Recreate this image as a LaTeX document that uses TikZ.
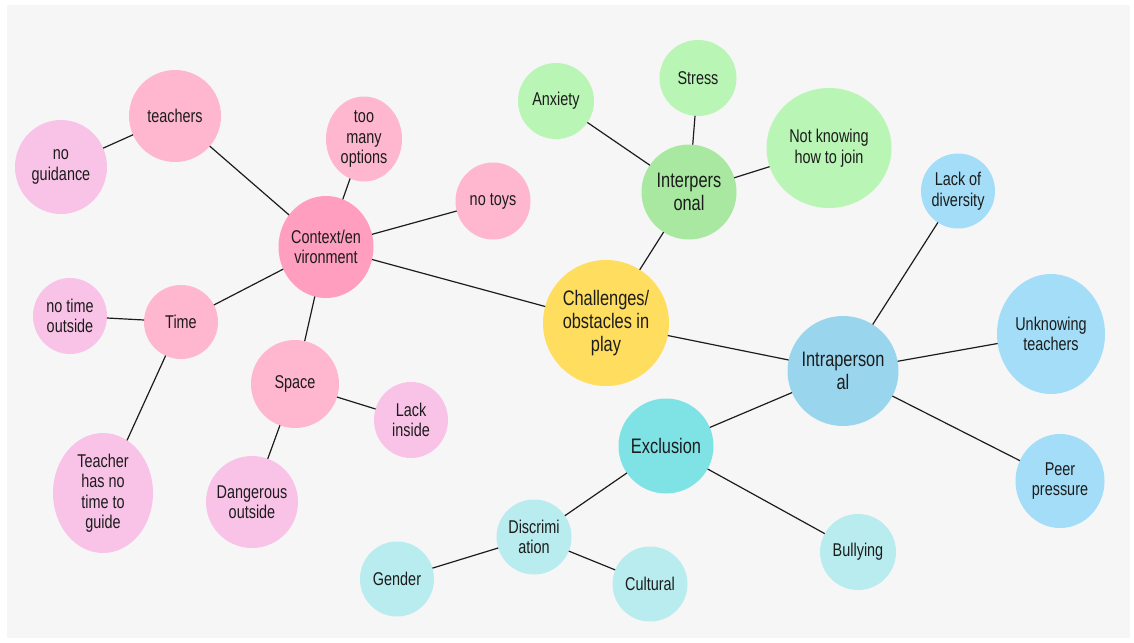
\documentclass[tikz,border=0pt]{standalone}
\usepackage{fontspec}
\setmainfont[FakeStretch=0.78]{Liberation Sans}
\usetikzlibrary{shapes.geometric}
\definecolor{bggray}{HTML}{F6F6F6}
\definecolor{cyellow}{HTML}{FFDD5E}
\definecolor{cpinkA}{HTML}{FF9EBF}
\definecolor{cpinkB}{HTML}{FFB6CF}
\definecolor{cpinkC}{HTML}{F9C3E8}
\definecolor{cgreenA}{HTML}{A8E8A0}
\definecolor{cgreenB}{HTML}{B9F5B5}
\definecolor{cblueA}{HTML}{9AD5EE}
\definecolor{cblueB}{HTML}{A3DDF7}
\definecolor{ccyanA}{HTML}{7FE3E6}
\definecolor{ccyanB}{HTML}{B8ECEE}
\definecolor{ink}{HTML}{1C1C1C}
\tikzset{
  bub/.style 2 args={ellipse, inner sep=0pt, outer sep=0pt, draw=none,
    minimum width=#1pt, minimum height=#2pt},
  sm/.style={align=center, text=ink, inner sep=0pt,
    font=\fontsize{18.5}{20.5}\selectfont},
  lg/.style={align=center, text=ink, inner sep=0pt,
    font=\fontsize{21}{23}\selectfont},
  edge/.style={draw=ink, line width=1.2pt}
}
\begin{document}
\begin{tikzpicture}[x=1pt,y=-1pt]
\useasboundingbox (0,0) rectangle (1134,642);
\fill[white] (0,0) rectangle (1134,642);
\fill[bggray] (7,5) rectangle (1130,638);

% centre
\node[bub={126}{126}, fill=cyellow, label={[lg]center:Challenges/\\obstacles in\\play}] (ch) at (606,323) {};

% context branch
\node[bub={95}{102}, fill=cpinkA, label={[sm]center:Context/en\\vironment}] (ctx) at (326,247) {};
\node[bub={92}{92}, fill=cpinkB, label={[sm]center:teachers}] (tea) at (175,116) {};
\node[bub={92}{94}, fill=cpinkC, label={[sm]center:no\\guidance}] (nog) at (61,167) {};
\node[bub={76}{85}, fill=cpinkB, label={[sm]center:too\\many\\options}] (tmo) at (364,139) {};
\node[bub={75}{77}, fill=cpinkB, label={[sm]center:no toys}] (toy) at (493,201) {};
\node[bub={74}{74}, fill=cpinkB, label={[sm]center:Time}] (tim) at (181,322) {};
\node[bub={74}{76}, fill=cpinkC, label={[sm]center:no time\\outside}] (nto) at (70,316) {};
\node[bub={100}{120}, fill=cpinkC, label={[sm]center:Teacher\\has no\\time to\\guide}] (thn) at (103,493) {};
\node[bub={88}{88}, fill=cpinkB, label={[sm]center:Space}] (spa) at (295,384) {};
\node[bub={74}{76}, fill=cpinkC, label={[sm]center:Lack\\inside}] (lin) at (411,420) {};
\node[bub={92}{92}, fill=cpinkC, label={[sm]center:Dangerous\\outside}] (dan) at (252,502) {};

% interpersonal branch
\node[bub={95}{95}, fill=cgreenA, label={[lg]center:Interpers\\onal}] (inter) at (689,192) {};
\node[bub={76}{76}, fill=cgreenB, label={[sm]center:Anxiety}] (anx) at (556,101) {};
\node[bub={77}{76}, fill=cgreenB, label={[sm]center:Stress}] (str) at (698,78) {};
\node[bub={125}{120}, fill=cgreenB, label={[sm]center:Not knowing\\how to join}] (nkj) at (829,148) {};

% intrapersonal branch
\node[bub={111}{110}, fill=cblueA, label={[lg]center:Intraperson\\al}] (intra) at (843,371) {};
\node[bub={74}{75}, fill=cblueB, label={[sm]center:Lack of\\diversity}] (lod) at (958,191) {};
\node[bub={108}{120}, fill=cblueB, label={[sm]center:Unknowing\\teachers}] (unk) at (1051,334) {};
\node[bub={89}{94}, fill=cblueB, label={[sm]center:Peer\\pressure}] (pee) at (1060,481) {};

% exclusion branch
\node[bub={95}{95}, fill=ccyanA, label={[lg]center:Exclusion}] (exc) at (666,446) {};
\node[bub={76}{76}, fill=ccyanB, label={[sm]center:Bullying}] (bul) at (858,552) {};
\node[bub={75}{75}, fill=ccyanB, label={[sm]center:Discrimi\\ation}] (dis) at (534,537) {};
\node[bub={74}{75}, fill=ccyanB, label={[sm]center:Gender}] (gen) at (397,579) {};
\node[bub={75}{75}, fill=ccyanB, label={[sm]center:Cultural}] (cul) at (650,584) {};

% connectors
\draw[edge] (ch) -- (ctx);
\draw[edge] (ch) -- (inter);
\draw[edge] (ch) -- (intra);
\draw[edge] (ctx) -- (tea);
\draw[edge] (ctx) -- (tmo);
\draw[edge] (ctx) -- (toy);
\draw[edge] (ctx) -- (tim);
\draw[edge] (ctx) -- (spa);
\draw[edge] (tea) -- (nog);
\draw[edge] (tim) -- (nto);
\draw[edge] (tim) -- (thn);
\draw[edge] (spa) -- (lin);
\draw[edge] (spa) -- (dan);
\draw[edge] (inter) -- (anx);
\draw[edge] (inter) -- (str);
\draw[edge] (inter) -- (nkj);
\draw[edge] (intra) -- (lod);
\draw[edge] (intra) -- (unk);
\draw[edge] (intra) -- (pee);
\draw[edge] (intra) -- (exc);
\draw[edge] (exc) -- (dis);
\draw[edge] (exc) -- (bul);
\draw[edge] (dis) -- (gen);
\draw[edge] (dis) -- (cul);
\end{tikzpicture}
\end{document}
